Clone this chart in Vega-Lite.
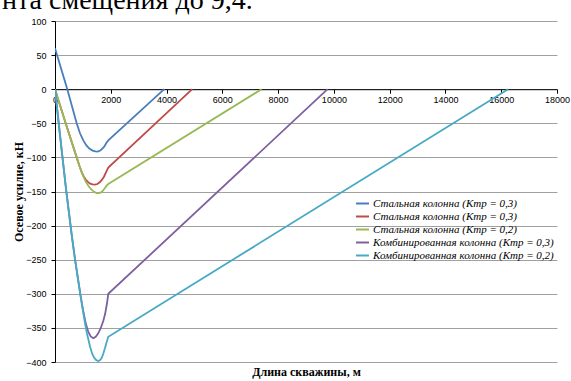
{
  "$schema": "https://vega.github.io/schema/vega-lite/v6.json",
  "autosize": {"type": "none"},
  "width": 502,
  "height": 341,
  "padding": {"left": 55, "top": 21, "right": 14, "bottom": 19},
  "background": "white",
  "title": {
    "text": "нта смещения до 9,4.",
    "font": "Liberation Serif",
    "fontSize": 28,
    "fontWeight": "normal",
    "color": "#000000",
    "anchor": "start",
    "frame": "group",
    "baseline": "alphabetic",
    "offset": 0,
    "dx": -53,
    "dy": 20
  },
  "config": {
    "view": {"stroke": null},
    "axis": {
      "labelFont": "Liberation Sans",
      "labelFontSize": 9,
      "labelColor": "#000000",
      "titleFont": "Liberation Serif",
      "titleFontSize": 12,
      "titleFontWeight": "bold",
      "titleColor": "#000000",
      "domainColor": "#000000",
      "tickColor": "#000000"
    }
  },
  "data": {
    "values": [
      {"series": 1, "x": 0, "y": 60},
      {"series": 1, "x": 441, "y": 0},
      {"series": 1, "x": 777, "y": -50},
      {"series": 1, "x": 900, "y": -65},
      {"series": 1, "x": 1015, "y": -75},
      {"series": 1, "x": 1120, "y": -82},
      {"series": 1, "x": 1230, "y": -87},
      {"series": 1, "x": 1350, "y": -90},
      {"series": 1, "x": 1450, "y": -91.3},
      {"series": 1, "x": 1530, "y": -91.5},
      {"series": 1, "x": 1620, "y": -90},
      {"series": 1, "x": 1700, "y": -87},
      {"series": 1, "x": 1770, "y": -84},
      {"series": 1, "x": 1840, "y": -79},
      {"series": 1, "x": 1911, "y": -75},
      {"series": 1, "x": 3917, "y": 0},

      {"series": 2, "x": 0, "y": 0},
      {"series": 2, "x": 383, "y": -50},
      {"series": 2, "x": 777, "y": -100},
      {"series": 2, "x": 880, "y": -113},
      {"series": 2, "x": 960, "y": -122},
      {"series": 2, "x": 1030, "y": -128},
      {"series": 2, "x": 1100, "y": -132.5},
      {"series": 2, "x": 1180, "y": -136},
      {"series": 2, "x": 1260, "y": -138.5},
      {"series": 2, "x": 1350, "y": -139.7},
      {"series": 2, "x": 1434, "y": -140},
      {"series": 2, "x": 1520, "y": -139},
      {"series": 2, "x": 1600, "y": -136.5},
      {"series": 2, "x": 1680, "y": -133},
      {"series": 2, "x": 1760, "y": -128},
      {"series": 2, "x": 1840, "y": -121},
      {"series": 2, "x": 1911, "y": -115},
      {"series": 2, "x": 4921, "y": 0},

      {"series": 3, "x": 0, "y": 0},
      {"series": 3, "x": 383, "y": -50},
      {"series": 3, "x": 777, "y": -100},
      {"series": 3, "x": 880, "y": -113},
      {"series": 3, "x": 960, "y": -122},
      {"series": 3, "x": 1030, "y": -129},
      {"series": 3, "x": 1100, "y": -135.5},
      {"series": 3, "x": 1200, "y": -142},
      {"series": 3, "x": 1300, "y": -147},
      {"series": 3, "x": 1400, "y": -150.5},
      {"series": 3, "x": 1490, "y": -152.2},
      {"series": 3, "x": 1577, "y": -152.5},
      {"series": 3, "x": 1650, "y": -151.3},
      {"series": 3, "x": 1720, "y": -148.8},
      {"series": 3, "x": 1790, "y": -145},
      {"series": 3, "x": 1850, "y": -141.5},
      {"series": 3, "x": 1911, "y": -139},
      {"series": 3, "x": 7409, "y": 0},

      {"series": 4, "x": 0, "y": 0},
      {"series": 4, "x": 200, "y": -75},
      {"series": 4, "x": 400, "y": -148},
      {"series": 4, "x": 600, "y": -214},
      {"series": 4, "x": 720, "y": -250},
      {"series": 4, "x": 835, "y": -281},
      {"series": 4, "x": 930, "y": -306},
      {"series": 4, "x": 1015, "y": -326},
      {"series": 4, "x": 1100, "y": -343},
      {"series": 4, "x": 1194, "y": -356},
      {"series": 4, "x": 1280, "y": -362.5},
      {"series": 4, "x": 1373, "y": -365},
      {"series": 4, "x": 1460, "y": -363},
      {"series": 4, "x": 1550, "y": -358},
      {"series": 4, "x": 1640, "y": -350.5},
      {"series": 4, "x": 1731, "y": -340},
      {"series": 4, "x": 1800, "y": -329},
      {"series": 4, "x": 1860, "y": -315},
      {"series": 4, "x": 1911, "y": -300},
      {"series": 4, "x": 9774, "y": 0},

      {"series": 5, "x": 0, "y": 0},
      {"series": 5, "x": 200, "y": -75},
      {"series": 5, "x": 400, "y": -148},
      {"series": 5, "x": 600, "y": -214},
      {"series": 5, "x": 720, "y": -250},
      {"series": 5, "x": 835, "y": -281},
      {"series": 5, "x": 930, "y": -307},
      {"series": 5, "x": 1015, "y": -328},
      {"series": 5, "x": 1085, "y": -345},
      {"series": 5, "x": 1150, "y": -359},
      {"series": 5, "x": 1254, "y": -377},
      {"series": 5, "x": 1330, "y": -387.5},
      {"series": 5, "x": 1400, "y": -393.5},
      {"series": 5, "x": 1480, "y": -397.3},
      {"series": 5, "x": 1552, "y": -398.5},
      {"series": 5, "x": 1620, "y": -397},
      {"series": 5, "x": 1680, "y": -393.5},
      {"series": 5, "x": 1731, "y": -388},
      {"series": 5, "x": 1790, "y": -380},
      {"series": 5, "x": 1850, "y": -371},
      {"series": 5, "x": 1911, "y": -363},
      {"series": 5, "x": 16249, "y": 0}
    ]
  },
  "mark": {"type": "line", "strokeWidth": 1.8, "clip": true},
  "encoding": {
    "x": {
      "field": "x",
      "type": "quantitative",
      "scale": {"domain": [0, 18000], "nice": false, "zero": false},
      "axis": {
        "title": "Длина скважины, м",
        "values": [0, 2000, 4000, 6000, 8000, 10000, 12000, 14000, 16000, 18000],
        "format": "d",
        "grid": false,
        "offset": -272.8,
        "tickSize": 4,
        "labelPadding": 2,
        "labelFlush": false,
        "titleX": 251,
        "titleY": 282,
        "titleBaseline": "middle",
        "titleAnchor": "middle"
      }
    },
    "y": {
      "field": "y",
      "type": "quantitative",
      "scale": {"domain": [-400, 100], "nice": false, "zero": false},
      "axis": {
        "title": "Осевое усилие, кН",
        "values": [-400, -350, -300, -250, -200, -150, -100, -50, 0, 50, 100],
        "grid": true,
        "gridColor": "#a0a0a0",
        "gridWidth": 1,
        "tickSize": 4,
        "labelPadding": 5,
        "titleX": -37,
        "titleY": 170.5,
        "titleAngle": -90,
        "titleBaseline": "middle",
        "titleAnchor": "middle"
      }
    },
    "color": {
      "field": "series",
      "type": "nominal",
      "scale": {
        "domain": [1, 2, 3, 4, 5],
        "range": ["#4a7ebb", "#be4b48", "#98b954", "#7d60a0", "#46aac5"]
      },
      "legend": {
        "title": null,
        "orient": "none",
        "legendX": 300,
        "legendY": 175,
        "symbolType": "stroke",
        "symbolSize": 169,
        "symbolStrokeWidth": 2,
        "rowPadding": -1.4,
        "labelFont": "Liberation Serif",
        "labelFontStyle": "italic",
        "labelFontSize": 11,
        "labelColor": "#000000",
        "labelOffset": 3,
        "labelLimit": 300,
        "labelExpr": "['Стальная колонна (Ктр = 0,3)', 'Стальная колонна (Ктр = 0,3)', 'Стальная колонна (Ктр = 0,2)', 'Комбинированная колонна (Ктр = 0,3)', 'Комбинированная колонна (Ктр = 0,2)'][datum.value - 1]"
      }
    }
  }
}
